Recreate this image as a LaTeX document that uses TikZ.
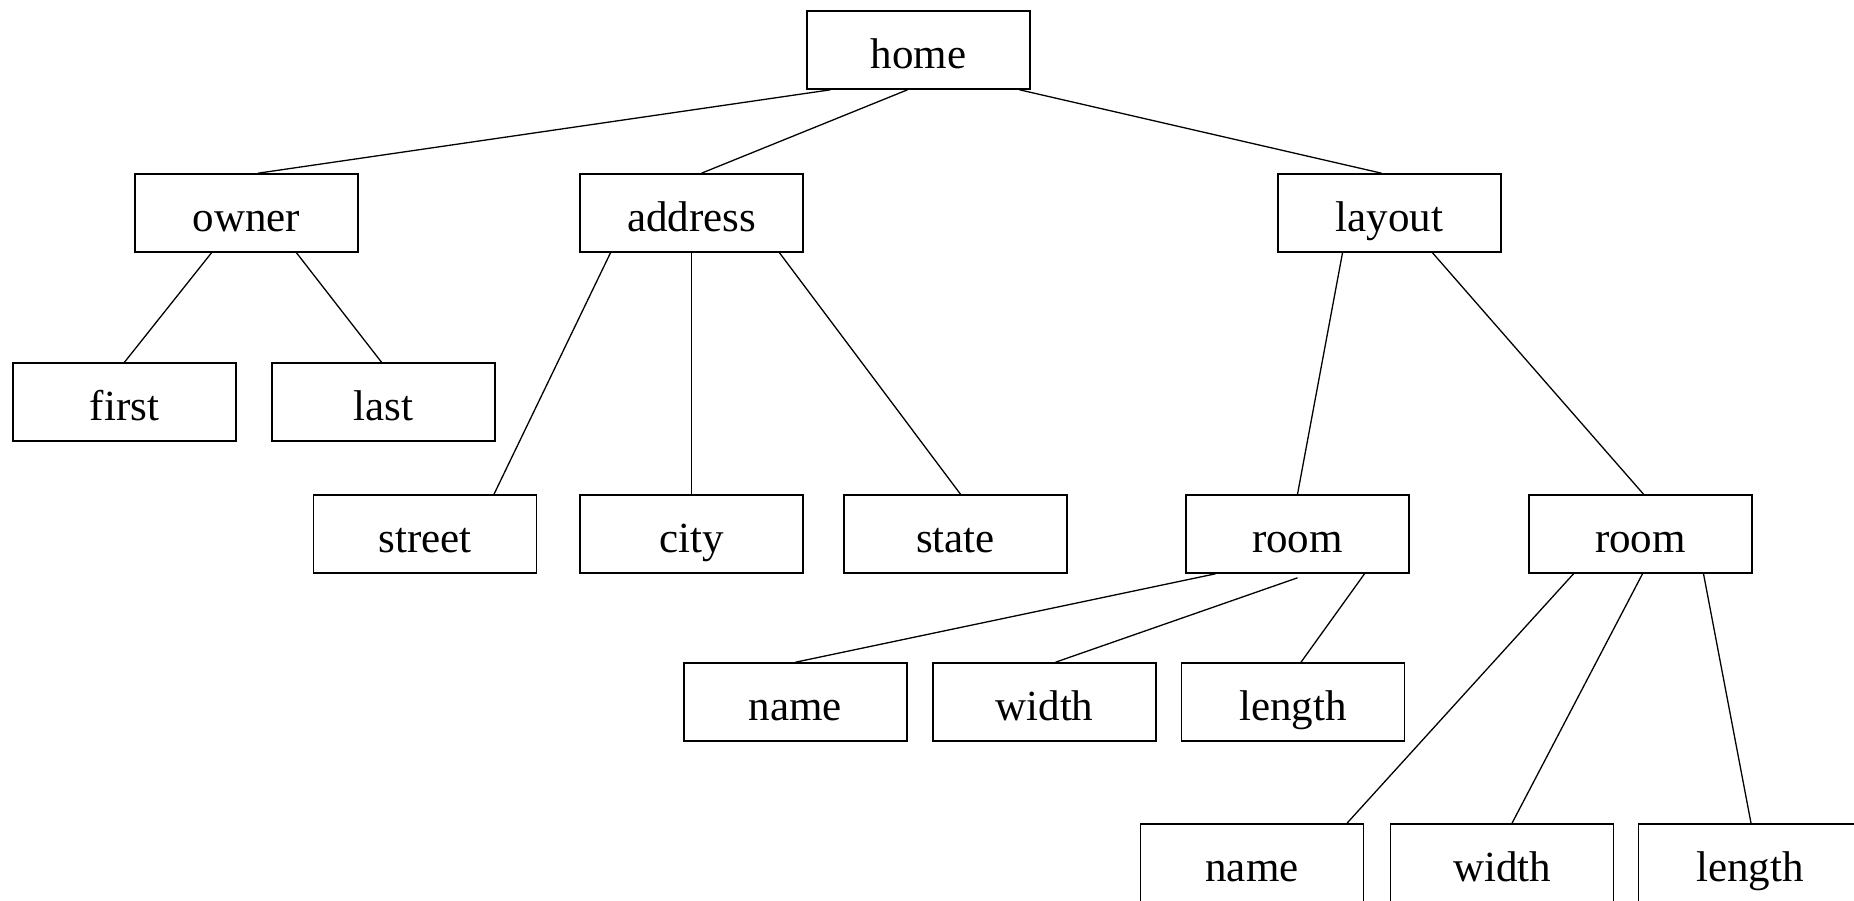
\documentclass[tikz,border=0pt]{standalone}
\usepackage{fontspec}
\setmainfont{Liberation Serif}
\begin{document}
\begin{tikzpicture}[x=1pt,y=-1pt,
  elem/.style={draw=black, line width=1.6pt, fill=white, rectangle,
    minimum width=223pt, minimum height=78pt, inner sep=0pt,
    text height=37pt, text depth=0pt,
    font=\fontsize{43}{50}\selectfont},
  link/.style={draw=black, line width=1.3pt}]
\clip (0,0) rectangle (1854,901);
\fill[white] (0,0) rectangle (1854,901);

% level 0
\node[elem] (home) at (918.5,50) {home};
% level 1
\node[elem] (owner)   at (246.5,213) {owner};
\node[elem] (address) at (691.5,213) {address};
\node[elem] (layout)  at (1389.5,213) {layout};
% owner children
\node[elem] (first) at (124.5,402) {first};
\node[elem] (last)  at (383.5,402) {last};
% address children
\node[elem] (street) at (425,534) {street};
\node[elem] (city)   at (691.5,534) {city};
\node[elem] (state)  at (955.5,534) {state};
% layout children
\node[elem] (room1) at (1297.5,534) {room};
\node[elem] (room2) at (1640.5,534) {room};
% first room
\node[elem] (name1)   at (795.5,702) {name};
\node[elem] (width1)  at (1044.5,702) {width};
\node[elem] (length1) at (1293,702) {length};
% second room
\node[elem] (name2)   at (1252,863) {name};
\node[elem] (width2)  at (1502,863) {width};
\node[elem] (length2) at (1750,863) {length};

% connectors
\draw[link] ([xshift=-88pt]home.south) -- ([xshift=11.5pt]owner.north);
\draw[link] ([xshift=-11pt]home.south) -- ([xshift=10pt]address.north);
\draw[link] ([xshift=101pt]home.south) -- ([xshift=-8pt]layout.north);

\draw[link] ([xshift=-35pt]owner.south) -- ([xshift=0pt]first.north);
\draw[link] ([xshift=50pt]owner.south) -- ([xshift=-2pt]last.north);

\draw[link] ([xshift=-81pt]address.south) -- ([xshift=69pt]street.north);
\draw[link] (address.south) -- (city.north);
\draw[link] ([xshift=88pt]address.south) -- ([xshift=5pt]state.north);

\draw[link] ([xshift=-47pt]layout.south) -- ([xshift=0pt]room1.north);
\draw[link] ([xshift=43pt]layout.south) -- ([xshift=3pt]room2.north);

\draw[link] ([xshift=-82pt]room1.south) -- (name1.north);
\draw[link] ([yshift=-4pt]room1.south) -- ([xshift=11pt]width1.north);
\draw[link] ([xshift=67pt]room1.south) -- ([xshift=8pt]length1.north);

\draw[link] ([xshift=-67pt]room2.south) -- ([xshift=95pt]name2.north);
\draw[link] ([xshift=2pt]room2.south) -- ([xshift=10pt]width2.north);
\draw[link] ([xshift=63pt]room2.south) -- ([xshift=1pt]length2.north);
\end{tikzpicture}
\end{document}
